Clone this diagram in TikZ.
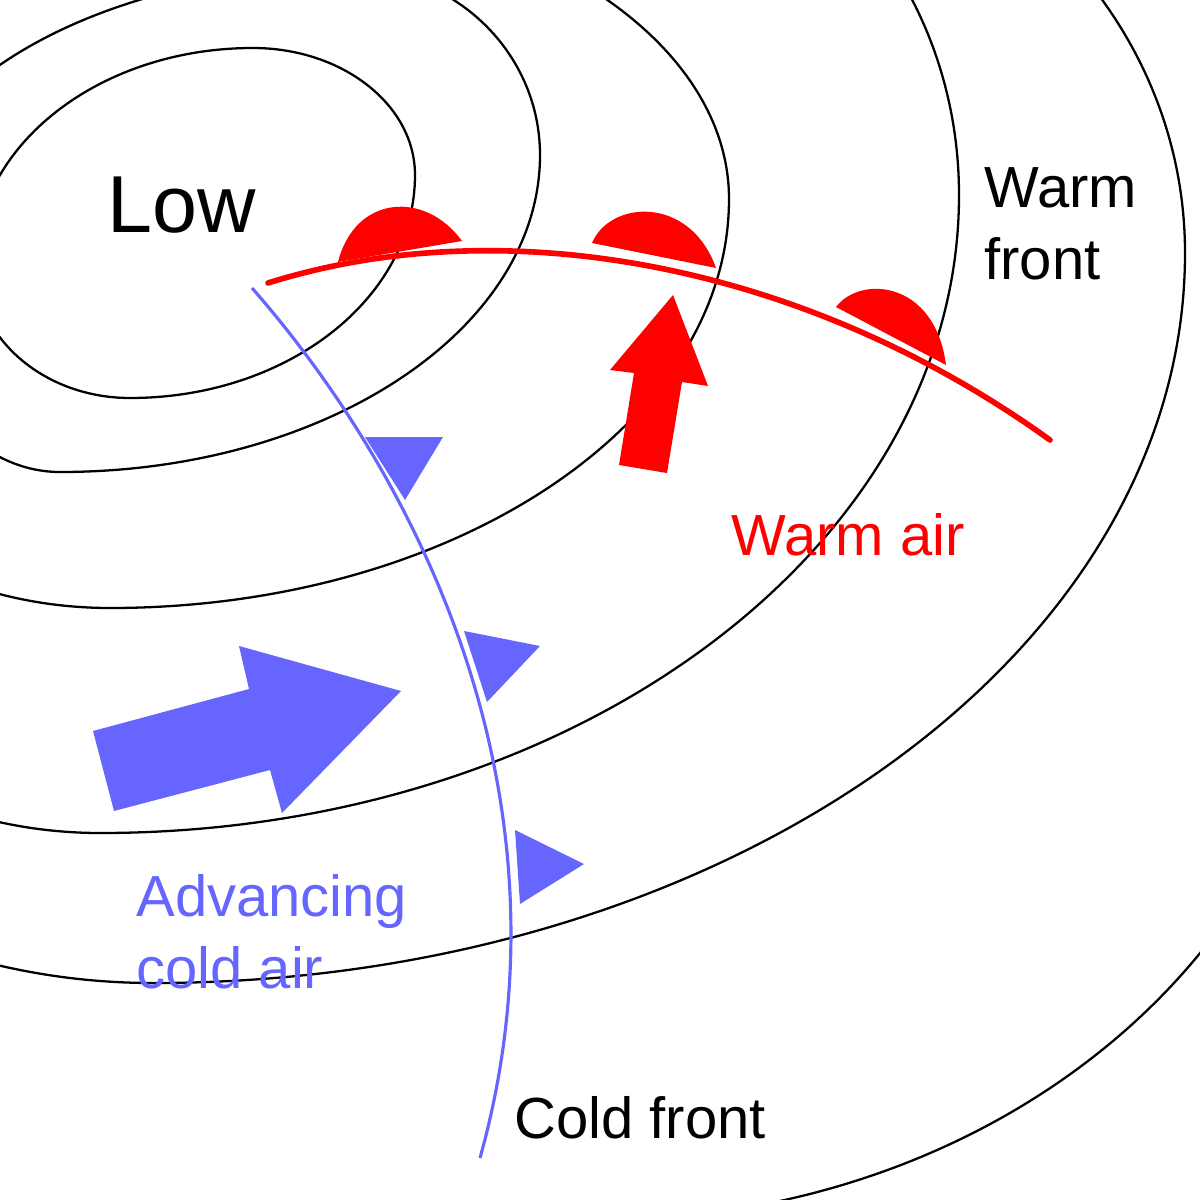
\documentclass[tikz,border=0pt]{standalone}
\usepackage{fontspec}
\setmainfont{Liberation Sans}
\usetikzlibrary{calc}
\definecolor{cb}{HTML}{6666FF}
\newcommand\eggloop[4]{%
 \draw[iso] (#1) .. controls ($(#1)!0.552!(#2|-#1)$) and ($(#2)!0.552!(#2|-#1)$) .. (#2)
  .. controls ($(#2)!0.552!(#2|-#3)$) and ($(#3)!0.552!(#2|-#3)$) .. (#3)
  .. controls ($(#3)!0.552!(#4|-#3)$) and ($(#4)!0.552!(#4|-#3)$) .. (#4)
  .. controls ($(#4)!0.552!(#4|-#1)$) and ($(#1)!0.552!(#4|-#1)$) .. (#1) -- cycle;}
\begin{document}
\begin{tikzpicture}[x=0.1mm,y=-0.1mm,iso/.style={black,line width=0.65pt}]
\useasboundingbox (0,0) rectangle (1200,1200);
\begin{scope}
\clip (0,0) rectangle (1200,1200);
\coordinate (a1) at (253,48); \coordinate (b1) at (415,175); \coordinate (c1) at (130,398); \coordinate (d1) at (-25,265);
\coordinate (a2) at (350,-30); \coordinate (b2) at (540,155); \coordinate (c2) at (60,472); \coordinate (d2) at (-110,240);
\coordinate (a3) at (250,-100); \coordinate (b3) at (729,199); \coordinate (c3) at (110,608); \coordinate (d3) at (-230,350);
\coordinate (a4) at (600,-200); \coordinate (b4) at (959,195); \coordinate (c4) at (100,833); \coordinate (d4) at (-350,400);
\coordinate (a5) at (700,-200); \coordinate (b5) at (1185,253); \coordinate (c5) at (153,983); \coordinate (d5) at (-450,450);
\coordinate (a6) at (700,-600); \coordinate (b6) at (1330,600); \coordinate (c6) at (600,1220); \coordinate (d6) at (-600,600);
\eggloop{a1}{b1}{c1}{d1}
\eggloop{a2}{b2}{c2}{d2}
\eggloop{a3}{b3}{c3}{d3}
\eggloop{a4}{b4}{c4}{d4}
\eggloop{a5}{b5}{c5}{d5}
\begin{scope}
\clip (650,0) rectangle (1200,1200);
\eggloop{a6}{b6}{c6}{d6}
\end{scope}
\end{scope}
% warm front
\draw[red,line width=1.6pt,line cap=round] (268,283) .. controls (500,210) and (800,260) .. (1050,440);
\fill[red] (338,262) .. controls (355,195) and (425,190) .. (462,241) -- cycle;
\fill[red] (592,243) .. controls (610,200) and (690,195) .. (716,268) -- cycle;
\fill[red] (836,307) .. controls (860,275) and (935,280) .. (946,365) -- cycle;
% cold front
\draw[cb,line width=0.9pt] (252,288) .. controls (420,480) and (580,800) .. (480,1158);
\fill[cb] (365,437) -- (443,437) -- (405,500) -- cycle;
\fill[cb] (464,631) -- (540,646) -- (487,702) -- cycle;
\fill[cb] (515,830) -- (584,864) -- (520,904) -- cycle;
% arrows
\fill[red] (619,465) -- (634,373) -- (610,370) -- (673,295) -- (708,386) -- (682,382) -- (667,473) -- cycle;
\fill[cb] (93,731) -- (249,689) -- (239,646) -- (401,691) -- (282,813) -- (270,770) -- (114,811) -- cycle;
% texts
\node[font=\fontsize{23}{27}\selectfont] (low) at (182,205) {Low};
\node[font=\fontsize{16.5}{20.5}\selectfont,anchor=north west,align=left] (wf) at (972,155) {Warm\\front};
\node[font=\fontsize{16.5}{20}\selectfont,red] (wa) at (848,535) {Warm air};
\node[font=\fontsize{16.5}{20.5}\selectfont,cb,anchor=north west,align=left] (ca) at (124,862) {Advancing\\cold air};
\node[font=\fontsize{16.5}{20}\selectfont] (cf) at (640,1118) {Cold front};
\end{tikzpicture}
\end{document}
